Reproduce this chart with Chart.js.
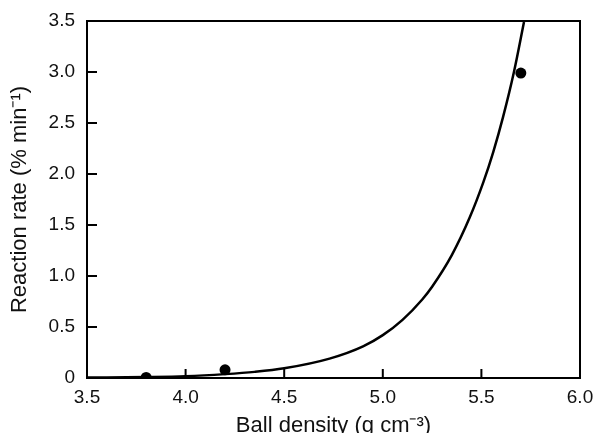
<!DOCTYPE html>
<html lang="en">
<head>
    <meta charset="UTF-8">
    <title>Reaction rate vs ball density</title>
    <script src="https://cdn.jsdelivr.net/npm/chart.js"></script>
    <style>
        html, body { margin: 0; padding: 0; background: #fff; }
        #wrap { width: 597px; height: 433px; }
    </style>
</head>
<body>
    <div id="wrap"><canvas id="rateChart"></canvas></div>

    <script>
        // Measured points
        const measuredDensity = [3.8, 4.2, 5.7];
        const measuredRate = [0.005, 0.08, 2.99];

        // Fitted curve, traced point by point
        const fitDensity = [3.5, 3.8, 4.0, 4.2, 4.35, 4.5, 4.73, 4.9, 5.0, 5.1, 5.2, 5.25, 5.35, 5.44, 5.51, 5.56, 5.61, 5.665, 5.716];
        const fitRate = [0.004, 0.01, 0.018, 0.038, 0.06, 0.095, 0.19, 0.31, 0.42, 0.57, 0.77, 0.895, 1.205, 1.57, 1.92, 2.215, 2.56, 3.0, 3.49];

        const xTicks = [3.5, 4.0, 4.5, 5.0, 5.5, 6.0];
        const yTicks = [0, 0.5, 1.0, 1.5, 2.0, 2.5, 3.0, 3.5];

        const toXY = (xs, ys) => xs.map((x, i) => ({ x: x, y: ys[i] }));

        // Frame around the plot plus short inward tick marks
        const framePlugin = {
            id: 'frame',
            afterDatasetsDraw(chart) {
                const { ctx, chartArea: a, scales } = chart;
                ctx.save();
                ctx.strokeStyle = '#000';
                ctx.lineWidth = 2;
                ctx.strokeRect(a.left, a.top, a.right - a.left, a.bottom - a.top);
                ctx.beginPath();
                xTicks.slice(1, -1).forEach(v => {
                    const px = scales.x.getPixelForValue(v);
                    ctx.moveTo(px, a.bottom);
                    ctx.lineTo(px, a.bottom - 9);
                });
                yTicks.slice(1, -1).forEach(v => {
                    const py = scales.y.getPixelForValue(v);
                    ctx.moveTo(a.left, py);
                    ctx.lineTo(a.left + 10, py);
                });
                ctx.stroke();
                ctx.restore();
            }
        };

        const tickFont = { family: '"Liberation Sans", Arial, sans-serif', size: 19 };
        const titleFont = { family: '"Liberation Sans", Arial, sans-serif', size: 22 };

        new Chart(document.getElementById('rateChart'), {
            type: 'scatter',
            data: {
                datasets: [
                    {
                        label: 'fit',
                        data: toXY(fitDensity, fitRate),
                        showLine: true,
                        borderColor: '#000',
                        borderWidth: 2.5,
                        pointRadius: 0,
                        cubicInterpolationMode: 'monotone',
                        fill: false
                    },
                    {
                        label: 'measured',
                        data: toXY(measuredDensity, measuredRate),
                        backgroundColor: '#000',
                        borderColor: '#000',
                        pointRadius: 5.5,
                        borderWidth: 0
                    }
                ]
            },
            options: {
                responsive: true,
                maintainAspectRatio: false,
                animation: false,
                layout: { padding: { top: 21, right: 17, left: 0, bottom: 0 } },
                plugins: {
                    legend: { display: false },
                    tooltip: { enabled: false }
                },
                scales: {
                    x: {
                        type: 'linear',
                        min: 3.5,
                        max: 6.0,
                        afterBuildTicks: s => { s.ticks = xTicks.map(v => ({ value: v })); },
                        afterFit: s => { s.height = 55; },
                        grid: { display: false },
                        border: { display: false },
                        ticks: {
                            color: '#111',
                            font: tickFont,
                            padding: 0,
                            maxRotation: 0,
                            callback: v => v.toFixed(1)
                        },
                        title: {
                            display: true,
                            text: 'Ball density (g cm⁻³)',
                            color: '#111',
                            font: titleFont,
                            padding: { top: 0, bottom: -6 }
                        }
                    },
                    y: {
                        type: 'linear',
                        min: 0,
                        max: 3.5,
                        afterBuildTicks: s => { s.ticks = yTicks.map(v => ({ value: v })); },
                        afterFit: s => { s.width = 87; },
                        grid: { display: false },
                        border: { display: false },
                        ticks: {
                            color: '#111',
                            font: tickFont,
                            padding: 4,
                            callback: v => v === 0 ? '0' : v.toFixed(1)
                        },
                        title: {
                            display: true,
                            text: 'Reaction rate (% min⁻¹)',
                            color: '#111',
                            font: titleFont,
                            padding: { top: 7, bottom: 0 }
                        }
                    }
                }
            },
            plugins: [framePlugin]
        });
    </script>
</body>
</html>
